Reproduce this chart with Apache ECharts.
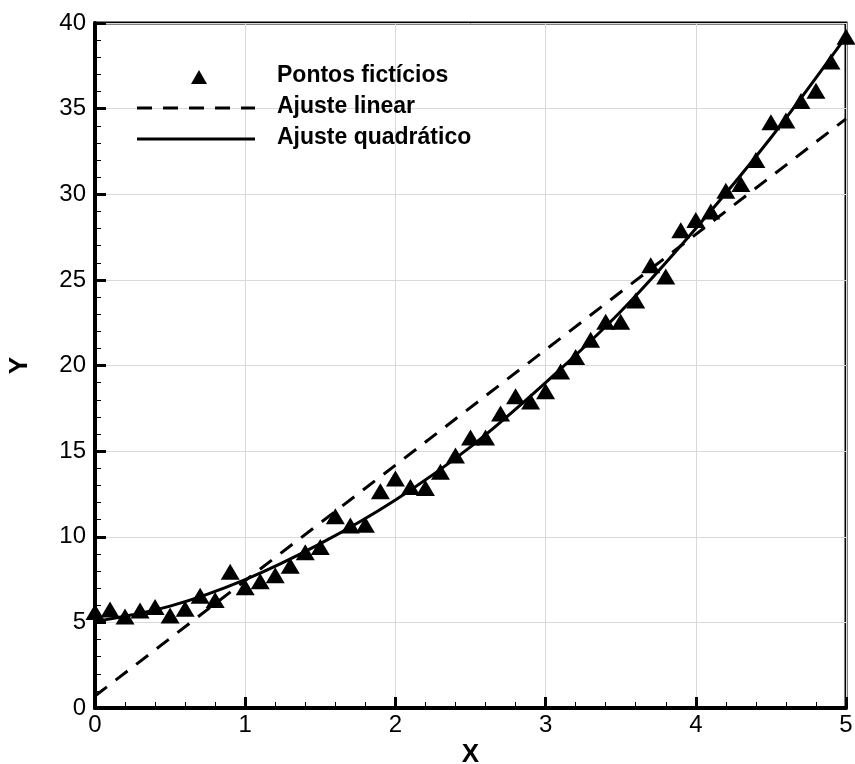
<!DOCTYPE html>
<html>
<head>
<meta charset="utf-8">
<script src="https://cdn.jsdelivr.net/npm/echarts@6/dist/echarts.min.js"></script>
<style>
  html, body { margin: 0; padding: 0; background: #fff; }
  #chart { width: 855px; height: 764px; }
</style>
</head>
<body>
<div id="chart"></div>
<script>
// Sample points (x, y)
const pointX = [0,0.1,0.2,0.3,0.4,0.5,0.6,0.7,0.8,0.9,1.0,1.1,1.2,1.3,1.4,1.5,1.6,1.7,1.8,1.9,2.0,
                2.1,2.2,2.3,2.4,2.5,2.6,2.7,2.8,2.9,3.0,3.1,3.2,3.3,3.4,3.5,3.6,3.7,3.8,3.9,4.0,
                4.1,4.2,4.3,4.4,4.5,4.6,4.7,4.8,4.9,5.0];
const pointY = [5.6,5.75,5.35,5.7,5.9,5.4,5.8,6.55,6.3,7.95,7.05,7.4,7.75,8.3,9.1,9.4,11.2,10.65,10.7,12.65,13.4,
                12.9,12.85,13.8,14.75,15.8,15.8,17.2,18.2,17.9,18.5,19.65,20.5,21.5,22.55,22.55,23.8,25.85,25.2,27.9,28.5,
                29.0,30.2,30.6,32.0,34.2,34.3,35.45,36.05,37.75,39.2];

// Linear fit, end values
const linearX = [0, 5];
const linearY = [0.7, 34.4];

// Quadratic fit, sampled along the curve
const quadX = [0, 0.5, 1, 1.5, 2, 2.5, 3, 3.5, 4, 4.5, 5];
const quadY = [5.05, 5.95, 7.5, 9.6, 12.15, 15.25, 19.0, 23.15, 28.0, 33.3, 39.2];

const xTicks = [0, 1, 2, 3, 4, 5];
const yTicks = [0, 5, 10, 15, 20, 25, 30, 35, 40];

const legendNames = ['Pontos fictícios', 'Ajuste linear', 'Ajuste quadrático'];

const zip = (xs, ys) => xs.map((x, i) => [x, ys[i]]);

const chart = echarts.init(document.getElementById('chart'));
const font = '"Liberation Sans", Arial, sans-serif';

// Grid frame
const G = { left: 95, right: 9, top: 23, bottom: 56 };

// Legend block drawn inside the plot area
const legX = 137, legW = 118, legTextX = 277, legY0 = 77, legDy = 31;
const legFont = 'bold 23px ' + font;

chart.setOption({
  animation: false,
  backgroundColor: '#fff',
  grid: {
    left: G.left, right: G.right, top: G.top, bottom: G.bottom,
    containLabel: false, outerBoundsMode: 'none',
    show: true, borderColor: '#000', borderWidth: 3, backgroundColor: 'transparent'
  },
  xAxis: {
    type: 'value', min: xTicks[0], max: xTicks[xTicks.length - 1], interval: 1,
    name: 'X', nameLocation: 'middle', nameGap: 32,
    nameTextStyle: { fontFamily: font, fontWeight: 'bold', fontSize: 26, color: '#000' },
    axisLine: { show: true, lineStyle: { color: '#000', width: 4 } },
    axisTick: { show: true, inside: true, length: 11, lineStyle: { color: '#000', width: 3 } },
    minorTick: { show: true, splitNumber: 5, length: 6, lineStyle: { color: '#000', width: 1 } },
    axisLabel: { color: '#000', fontSize: 24, fontFamily: font, margin: 5 },
    splitLine: { show: true, lineStyle: { color: '#d9d9d9', width: 1 } }
  },
  yAxis: {
    type: 'value', min: yTicks[0], max: yTicks[yTicks.length - 1], interval: 5,
    name: 'Y', nameLocation: 'middle', nameGap: 62, nameRotate: 90,
    nameTextStyle: { fontFamily: font, fontWeight: 'bold', fontSize: 26, color: '#000' },
    axisLine: { show: true, lineStyle: { color: '#000', width: 4 } },
    axisTick: { show: true, inside: true, length: 11, lineStyle: { color: '#000', width: 3 } },
    minorTick: { show: true, splitNumber: 5, length: 6, lineStyle: { color: '#000', width: 1 } },
    axisLabel: { color: '#000', fontSize: 24, fontFamily: font, margin: 9 },
    splitLine: { show: true, lineStyle: { color: '#d9d9d9', width: 1 } }
  },
  series: [
    {
      name: legendNames[1], type: 'line', data: zip(linearX, linearY),
      symbol: 'none', z: 3,
      lineStyle: { color: '#000', width: 3, type: [15, 11] }
    },
    {
      name: legendNames[2], type: 'line', data: zip(quadX, quadY),
      symbol: 'none', smooth: 0.35, z: 3,
      lineStyle: { color: '#000', width: 3 }
    },
    {
      name: legendNames[0], type: 'scatter', data: zip(pointX, pointY),
      symbol: 'triangle', symbolSize: [19, 16], clip: false, z: 4,
      itemStyle: { color: '#000', opacity: 1 }
    }
  ],
  graphic: [
    { type: 'polygon', shape: { points: [[legX + 62 - 8, legY0 + 7], [legX + 62 + 8, legY0 + 7], [legX + 62, legY0 - 7]] },
      style: { fill: '#000' }, z: 10 },
    { type: 'text', left: legTextX, top: legY0 - 13,
      style: { text: legendNames[0], font: legFont, fill: '#000' }, z: 10 },
    { type: 'line', shape: { x1: legX, y1: legY0 + legDy, x2: legX + legW, y2: legY0 + legDy },
      style: { stroke: '#000', lineWidth: 3, lineDash: [15, 11] }, z: 10 },
    { type: 'text', left: legTextX, top: legY0 + legDy - 13,
      style: { text: legendNames[1], font: legFont, fill: '#000' }, z: 10 },
    { type: 'line', shape: { x1: legX, y1: legY0 + 2 * legDy, x2: legX + legW, y2: legY0 + 2 * legDy },
      style: { stroke: '#000', lineWidth: 3 }, z: 10 },
    { type: 'text', left: legTextX, top: legY0 + 2 * legDy - 13,
      style: { text: legendNames[2], font: legFont, fill: '#000' }, z: 10 }
  ]
});
</script>
</body>
</html>
